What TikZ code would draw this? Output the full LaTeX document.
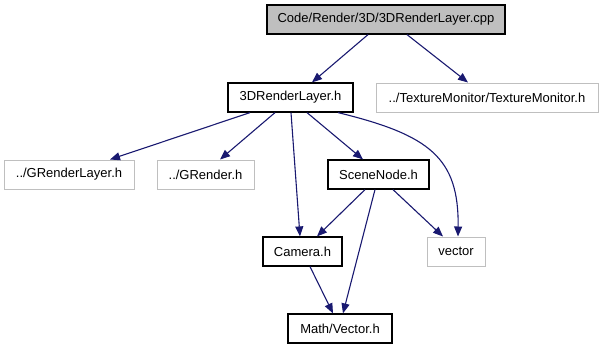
\documentclass[tikz,border=0pt]{standalone}
\usepackage{fontspec}
\setmainfont{Liberation Sans}
\usetikzlibrary{arrows.meta}
\definecolor{edgeblue}{HTML}{191970}
\definecolor{boxgray}{HTML}{BFBFBF}
\definecolor{boxline}{HTML}{404040}
\tikzset{
  file/.style={draw=black, line width=1.2pt, inner sep=0pt, font=\fontsize{13}{15}\selectfont,
    minimum height=29pt},
  extfile/.style={file, draw=boxgray, line width=1pt},
  mainfile/.style={file, fill=boxgray},
  dep/.style={draw=edgeblue, line width=1.1pt, -{Triangle[length=10pt,width=8pt]}}
}
\begin{document}
\begin{tikzpicture}[x=1pt, y=-1pt]
\useasboundingbox (0,0) rectangle (603,349);

% row 0
\node[mainfile, minimum width=238pt] (cpp) at (386,19.5) {Code/Render/3D/3DRenderLayer.cpp};
% row 1
\node[file, minimum width=125pt] (rl) at (290.5,97.5) {3DRenderLayer.h};
\node[extfile, minimum width=222pt] (tm) at (487,97.5) {../TextureMonitor/TextureMonitor.h};
% row 2
\node[extfile, minimum width=130pt] (grl) at (69,174.5) {../GRenderLayer.h};
\node[extfile, minimum width=97pt] (gr) at (205.5,174.5) {../GRender.h};
\node[file, minimum width=101pt] (sn) at (378.5,174.5) {SceneNode.h};
% row 3
\node[file, minimum width=79pt] (cam) at (302.5,251.5) {Camera.h};
\node[extfile, minimum width=58pt] (vec) at (456,251.5) {vector};
% row 4
\node[file, minimum width=104pt] (mv) at (340,328.5) {Math/Vector.h};

% includes
\draw[dep] ([xshift=-18pt]cpp.south) -- ([xshift=21.5pt]rl.north);
\draw[dep] ([xshift=21pt]cpp.south) -- ([xshift=-19pt]tm.north);

\draw[dep] ([xshift=-40.5pt]rl.south) -- ([xshift=41pt]grl.north);
\draw[dep] ([xshift=-15.5pt]rl.south) -- ([xshift=14.5pt]gr.north);
\draw[dep] ([xshift=0.5pt]rl.south) -- ([xshift=-2.5pt]cam.north);
\draw[dep] ([xshift=16.5pt]rl.south) -- ([xshift=-15.5pt]sn.north);
\draw[dep] ([xshift=47.5pt]rl.south) .. controls (430,135) and (459,158) .. ([xshift=2pt]vec.north);

\draw[dep] ([xshift=-13.5pt]sn.south) -- ([xshift=14.5pt]cam.north);
\draw[dep] ([xshift=-3.5pt]sn.south) -- ([xshift=3pt]mv.north);
\draw[dep] ([xshift=14.5pt]sn.south) -- ([xshift=-13pt]vec.north);

\draw[dep] ([xshift=7.5pt]cam.south) -- ([xshift=-7pt]mv.north);
\end{tikzpicture}
\end{document}
